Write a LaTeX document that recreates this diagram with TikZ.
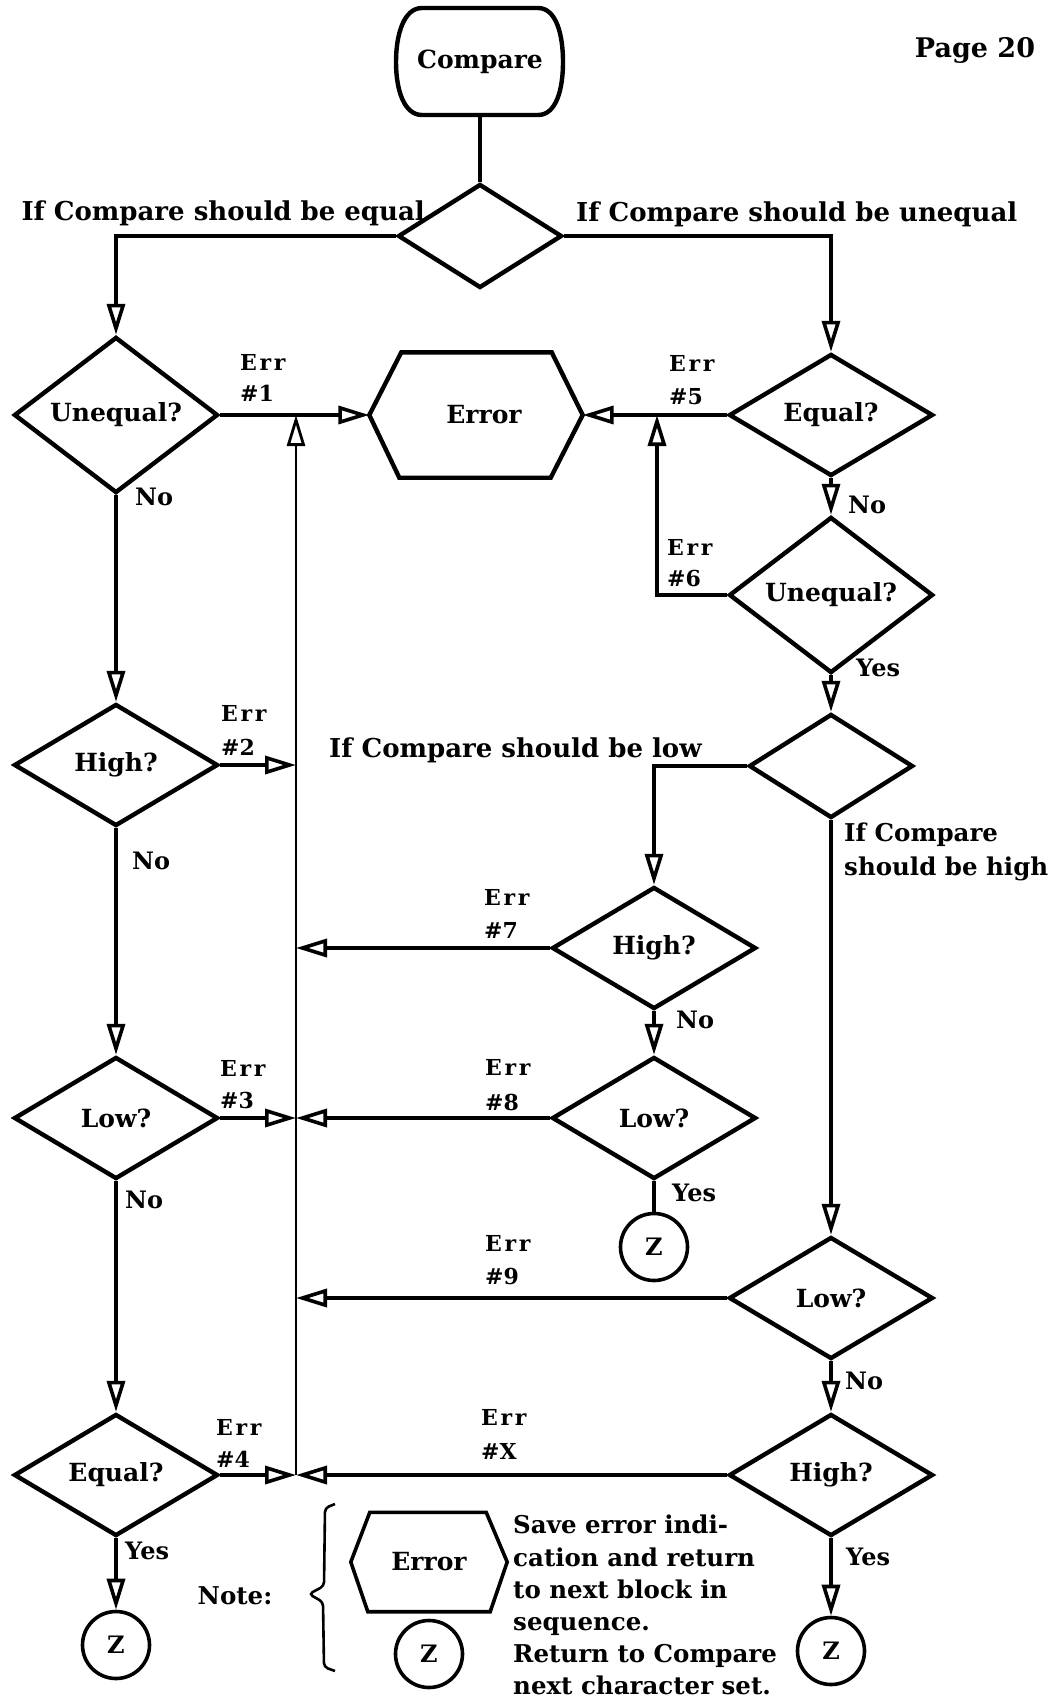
\documentclass[tikz,border=0pt]{standalone}
\usepackage{fontspec}
\setmainfont{DejaVu Serif}
\usetikzlibrary{shapes.geometric,arrows.meta,calc}
\newcommand{\fQ}{\fontsize{25}{30}\selectfont\bfseries}
\newcommand{\fL}{\fontsize{26}{34}\selectfont\bfseries}
\newcommand{\fLh}{\fontsize{24.5}{34}\selectfont\bfseries}
\newcommand{\fE}{\fontsize{22}{26}\selectfont\bfseries}
\newcommand{\fY}{\fontsize{24}{28}\selectfont\bfseries}
\newcommand{\fP}{\fontsize{27}{32}\selectfont\bfseries}
\newcommand{\fN}{\fontsize{24.5}{32.2}\selectfont\bfseries}
\newcommand{\fZ}{\fontsize{24}{28}\selectfont\bfseries}
\newcommand{\errtxt}{{\addfontfeature{LetterSpace=12}Err}}
\begin{document}
\begin{tikzpicture}[x=1pt,y=-1pt,
  shp/.style={draw, line width=4.4pt, line join=miter},
  qbox/.style={diamond, draw, line width=4.4pt, inner sep=0pt, minimum width=204pt, minimum height=122pt, font=\fQ},
  blank/.style={diamond, draw, line width=4.4pt, inner sep=0pt, minimum width=164pt, minimum height=104pt},
  zc/.style={circle, draw, line width=3.6pt, minimum size=67pt, inner sep=0pt, font=\fZ},
  conn/.style={line width=3.6pt},
  arr/.style={line width=3.6pt, -{Triangle[open,length=31pt,width=18pt]}},
  busarr/.style={line width=2.8pt, -{Triangle[open,length=31pt,width=18pt]}},
  lbl/.style={font=\fL, inner sep=0pt},
  errl/.style={font=\fE, inner sep=0pt, anchor=west},
  yn/.style={font=\fY, inner sep=0pt, anchor=west},
]
\useasboundingbox (0,0) rectangle (1057,1699);

% --- terminal
\node[inner sep=0pt, minimum width=167pt, minimum height=107pt, font=\fQ] (cmp) at (480,62) {Compare};
\draw[shp] (422,8) -- (538,8) .. controls (556,8) and (563,34) .. (563,62)
  .. controls (563,90) and (556,115) .. (538,115) -- (422,115)
  .. controls (404,115) and (396,90) .. (396,62)
  .. controls (396,34) and (404,8) .. (422,8) -- cycle;
\node[font=\fP, inner sep=0pt] (pg) at (975,50) {Page 20};

% --- top decision
\node[blank] (d0) at (480,236) {};
\node[lbl, anchor=base east] (lq) at (425,220) {If Compare should be equal};
\node[lbl, anchor=base west] (lu) at (576,222) {If Compare should be unequal};

% --- error hexagon
\node[inner sep=0pt, minimum width=213pt, minimum height=125pt, font=\fQ] (err) at (476,415) {\hspace*{16pt}Error};
\draw[shp] ([xshift=32pt]err.north west) -- ([xshift=-31pt]err.north east) -- (err.east)
  -- ([xshift=-32pt]err.south east) -- ([xshift=30pt]err.south west) -- (err.west) -- cycle;

% --- left column
\node[qbox] (uq1) at (116,415) {Unequal?};
\node[qbox] (hi1) at (116,765) {High?};
\node[qbox] (lo1) at (116,1118) {Low?};
\node[qbox] (eq2) at (116,1475) {Equal?};
\node[zc] (z1) at (116,1645) {Z};

% --- right column
\node[qbox] (eq1) at (831,415) {Equal?};
\node[qbox] (uq2) at (831,595) {Unequal?};
\node[blank] (d1) at (831,766) {};
\node[qbox] (lo3) at (831,1298) {Low?};
\node[qbox] (hi3) at (831,1475) {High?};
\node[zc] (z3) at (831,1651) {Z};

% --- middle column
\node[qbox] (hi2) at (654,948) {High?};
\node[qbox] (lo2) at (654,1118) {Low?};
\node[zc] (z2) at (654,1247) {Z};

\node[lbl, anchor=base west] (ll) at (329,757) {If Compare should be low};
\node[font=\fLh, inner sep=0pt, anchor=north west, align=left] (lh) at (844,823) {If Compare\\should be high};

% --- bus
\coordinate (bt) at (296,415);
\coordinate (bb) at (296,1475);
\coordinate (c6) at (657,415);

% --- connectors
\draw[conn] (cmp.south) -- (d0.north);
\draw[arr] (d0.west) -| (uq1.north);
\draw[arr] (d0.east) -| (eq1.north);
\draw[arr] (uq1.east) -- (err.west);
\draw[arr] (eq1.west) -- (err.east);
\draw[arr] (eq1.south) -- (uq2.north);
\draw[arr] (uq2.west) -| (c6);
\draw[arr] (uq2.south) -- (d1.north);
\draw[arr] (d1.west) -| (hi2.north);
\draw[arr] (d1.south) -- (lo3.north);
\draw[arr] (hi2.south) -- (lo2.north);
\draw[conn] (lo2.south) -- (z2.north);
\draw[arr] (lo3.south) -- (hi3.north);
\draw[arr] (hi3.south) -- (z3.north);
\draw[arr] (uq1.south) -- (hi1.north);
\draw[arr] (hi1.south) -- (lo1.north);
\draw[arr] (lo1.south) -- (eq2.north);
\draw[arr] (eq2.south) -- (z1.north);

\draw[busarr] (bb) -- (bt);
\draw[arr] (hi1.east) -- (hi1.east -| bt);
\draw[arr] (hi2.west) -- (hi2.west -| bt);
\draw[arr] (lo1.east) -- (lo1.east -| bt);
\draw[arr] (lo2.west) -- (lo2.west -| bt);
\draw[arr] (lo3.west) -- (lo3.west -| bt);
\draw[arr] (eq2.east) -- (eq2.east -| bt);
\draw[arr] (hi3.west) -- (hi3.west -| bt);

% --- Err labels
\node[errl] (e1a) at (240,362) {\errtxt};  \node[errl] (e1b) at (240,393) {\#1};
\node[errl] (e2a) at (221,713) {\errtxt};  \node[errl] (e2b) at (221,747) {\#2};
\node[errl] (e3a) at (220,1068) {\errtxt}; \node[errl] (e3b) at (220,1100) {\#3};
\node[errl] (e4a) at (216,1427) {\errtxt}; \node[errl] (e4b) at (216,1459) {\#4};
\node[errl] (e5a) at (669,363) {\errtxt};  \node[errl] (e5b) at (669,397) {\#5};
\node[errl] (e6a) at (667,547) {\errtxt};  \node[errl] (e6b) at (667,578) {\#6};
\node[errl] (e7a) at (484,897) {\errtxt};  \node[errl] (e7b) at (484,930) {\#7};
\node[errl] (e8a) at (485,1067) {\errtxt}; \node[errl] (e8b) at (485,1102) {\#8};
\node[errl] (e9a) at (485,1243) {\errtxt}; \node[errl] (e9b) at (485,1276) {\#9};
\node[errl] (eXa) at (481,1417) {\errtxt}; \node[errl] (eXb) at (481,1451) {\#X};

% --- Yes / No
\node[yn] (n1) at (135,497) {No};
\node[yn] (n2) at (132,861) {No};
\node[yn] (n3) at (125,1200) {No};
\node[yn] (y1) at (125,1551) {Yes};
\node[yn] (n4) at (848,505) {No};
\node[yn] (y2) at (856,668) {Yes};
\node[yn] (n5) at (676,1020) {No};
\node[yn] (y3) at (672,1193) {Yes};
\node[yn] (n6) at (845,1381) {No};
\node[yn] (y4) at (846,1557) {Yes};

% --- note
\node[font=\fN, inner sep=0pt] (note) at (235,1596) {Note:};
\draw[line width=2.6pt, rounded corners=4pt] (335,1504) -- (325,1508) -- (324,1586) -- (309,1594) -- (323,1602) -- (324,1667) -- (335,1671);
\node[inner sep=0pt, minimum width=156pt, minimum height=99pt, font=\fQ] (nerr) at (429,1562) {Error};
\draw[line width=3.6pt, line join=miter] ([xshift=19pt]nerr.north west) -- ([xshift=-21pt]nerr.north east) -- (nerr.east)
  -- ([xshift=-17pt]nerr.south east) -- ([xshift=17pt]nerr.south west) -- (nerr.west) -- cycle;
\node[zc] (nz) at (429,1654) {Z};
\node[font=\fN, align=left, anchor=north west, inner sep=0pt] (ntext) at (513,1515)
  {Save error indi-\\cation and return\\to next block in\\sequence.\\Return to Compare\\next character set.};
\end{tikzpicture}
\end{document}
